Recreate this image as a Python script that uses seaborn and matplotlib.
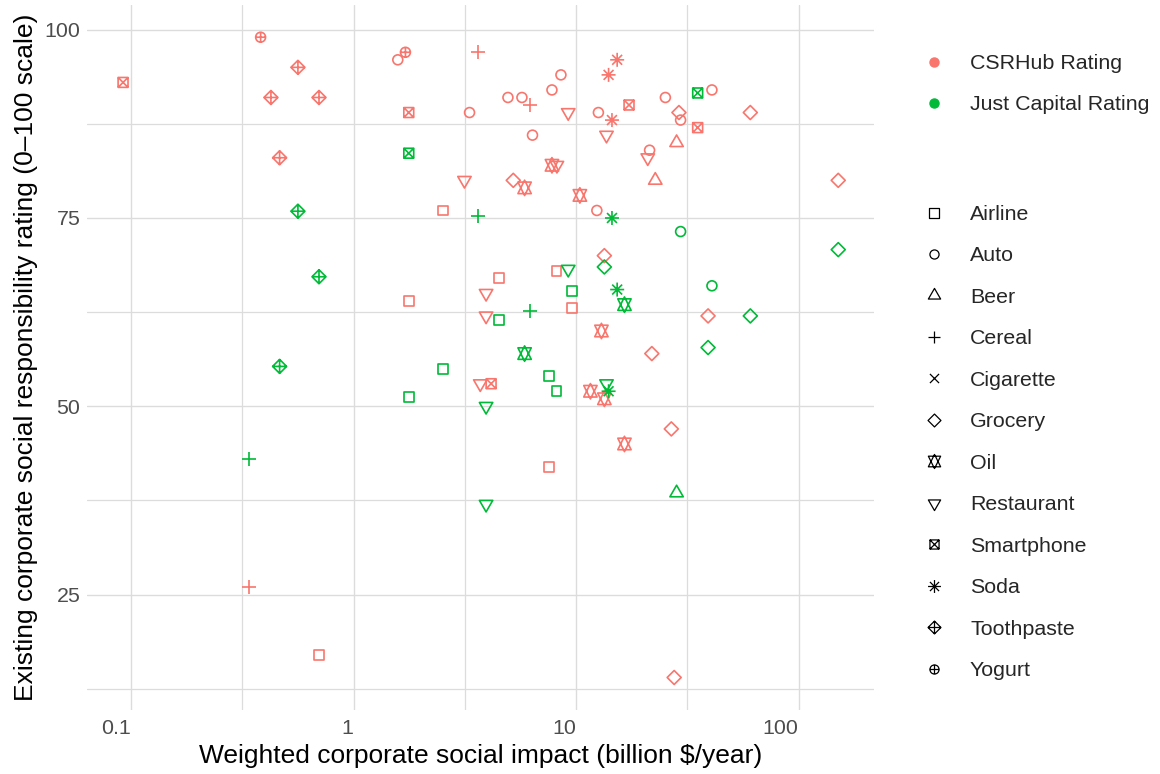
import numpy as np
import pandas as pd
import matplotlib
matplotlib.use("Agg")
import matplotlib.pyplot as plt
from matplotlib.path import Path
from matplotlib.markers import MarkerStyle
from matplotlib.lines import Line2D
import seaborn as sns

# ---------------------------------------------------------------- data
industries = ["Airline", "Auto", "Beer", "Cereal", "Cigarette", "Grocery", "Oil",
              "Restaurant", "Smartphone", "Soda", "Toothpaste", "Yogurt"]
sources = ["CSRHub Rating", "Just Capital Rating"]
source_colors = ["#F8766D", "#00BA38"]

# one entry per company: industry, weighted impact (billion $/year),
# CSRHub rating and Just Capital rating (nan = not rated)
company_industry = (
    ["Airline"] * 7 + ["Auto"] * 13 + ["Beer"] * 2 + ["Cereal"] * 3
    + ["Grocery"] * 9 + ["Oil"] * 7 + ["Restaurant"] * 8
    + ["Smartphone"] * 5 + ["Soda"] * 3 + ["Toothpaste"] * 4 + ["Yogurt"] * 2
)
impact = [
    0.70, 1.78, 2.53, 4.50, 7.56, 8.17, 9.58,
    1.58, 3.32, 4.94, 5.71, 6.37, 7.79, 8.55, 12.4, 12.6, 21.4, 25.2, 29.5, 40.8,
    22.7, 28.3,
    0.337, 3.61, 6.18,
    5.22, 13.4, 21.9, 26.8, 27.6, 29.0, 39.2, 60.7, 150.8,
    5.87, 7.79, 10.4, 11.6, 13.0, 13.4, 16.5,
    3.15, 3.71, 3.94, 3.94, 8.20, 9.22, 13.7, 21.0,
    0.092, 1.77, 4.15, 17.3, 35.2,
    14.0, 14.5, 15.3,
    0.425, 0.465, 0.562, 0.699,
    0.382, 1.71,
]
csrhub = [
    17, 64, 76, 67, 42, 68, 63,
    96, 89, 91, 91, 86, 92, 94, 76, 89, 84, 91, 88, 92,
    80, 85,
    26, 97, 90,
    80, 70, 57, 47, 14, 89, 62, 89, 80,
    79, 82, 78, 52, 60, 51, 45,
    80, 53, 65, 62, 82, 89, 86, 83,
    93, 89, 53, 90, 87,
    94, 88, 96,
    91, 83, 95, 91,
    99, 97,
]
nan = np.nan
justcap = [
    nan, 51.2, 55, 61.5, 54, 52, 65.3,
    nan, nan, nan, nan, nan, nan, nan, nan, nan, nan, nan, 73.2, 66,
    nan, 38.5,
    43, 75.3, 62.7,
    nan, 68.5, nan, nan, nan, nan, 57.8, 62, 70.8,
    57, nan, nan, nan, nan, nan, 63.5,
    nan, nan, 50, 37, nan, 68.2, 53, nan,
    nan, 83.6, nan, nan, 91.6,
    52, 75, 65.5,
    nan, 55.3, 75.9, 67.2,
    nan, nan,
]

wide = pd.DataFrame({"industry": company_industry, "impact": impact,
                     sources[0]: csrhub, sources[1]: justcap})
df = wide.melt(id_vars=["industry", "impact"], value_vars=sources,
               var_name="source", value_name="rating").dropna()

# ------------------------------------------------------- point symbols
K = 1.6            # common frame so every symbol keeps its relative size
SQ = 1.0           # square half side
TR, TX, TY = 1.5551, 1.3468, 0.7776
D = np.sqrt(2)


def poly(pts):
    return Path(list(pts) + [pts[0]],
                [Path.MOVETO] + [Path.LINETO] * (len(pts) - 1) + [Path.CLOSEPOLY])


def seg(p, q):
    return Path([p, q], [Path.MOVETO, Path.LINETO])


def symbol(*parts):
    anchor = Path([(K, 0.0)], [Path.MOVETO])
    return MarkerStyle(Path.make_compound_path(anchor, *parts))


circle = Path.circle((0, 0), 1.0)
plus_l = [seg((-D, 0), (D, 0)), seg((0, -D), (0, D))]
plus_s = [seg((-1, 0), (1, 0)), seg((0, -1), (0, 1))]
cross = [seg((-1, -1), (1, 1)), seg((-1, 1), (1, -1))]
diamond = poly([(-D, 0), (0, D), (D, 0), (0, -D)])
square = poly([(-SQ, -SQ), (SQ, -SQ), (SQ, SQ), (-SQ, SQ)])
yc11 = 0.5 * (TY + TR)

markers = {
    "Airline": symbol(square),
    "Auto": symbol(circle),
    "Beer": symbol(poly([(0, TR), (TX, -TY), (-TX, -TY)])),
    "Cereal": symbol(*plus_l),
    "Cigarette": symbol(*cross),
    "Grocery": symbol(diamond),
    "Oil": symbol(poly([(0, -TR), (TX, yc11), (-TX, yc11)]),
                  poly([(0, TR), (TX, -yc11), (-TX, -yc11)])),
    "Restaurant": symbol(poly([(0, -TR), (TX, TY), (-TX, TY)])),
    "Smartphone": symbol(square, *cross),
    "Soda": symbol(*cross, *plus_l),
    "Toothpaste": symbol(diamond, *plus_l),
    "Yogurt": symbol(circle, *plus_s),
}

# ---------------------------------------------------------------- plot
sns.set_theme(style="white")
plt.rcParams["font.family"] = ["Liberation Sans", "DejaVu Sans"]

W, H = 1160, 774
fig = plt.figure(figsize=(W / 100, H / 100), dpi=100)
left, right, top, bottom = 87.3, 874.0, 5.2, 709.5
ax = fig.add_axes([left / W, 1 - bottom / H, (right - left) / W, (bottom - top) / H])

present = [i for i in industries if i in set(df["industry"])]
sns.scatterplot(data=df, x="impact", y="rating", hue="source", hue_order=sources,
                palette=source_colors, style="industry", style_order=present,
                markers={k: markers[k] for k in present}, s=130, legend=False, ax=ax)

# hollow symbols stroked in the series colour
for coll in ax.collections:
    fc = coll.get_facecolors()
    coll.set_edgecolors(fc)
    coll.set_facecolors("none")
    coll.set_linewidths(1.2)

ax.set_xscale("log")
lx = np.log10(df["impact"])
pad = 0.05 * (lx.max() - lx.min())
ax.set_xlim(10 ** (lx.min() - pad), 10 ** (lx.max() + pad))
ry = df["rating"]
pad = 0.05 * (ry.max() - ry.min())
ax.set_ylim(ry.min() - pad, ry.max() + pad)

xt = [0.1, 1, 10, 100]
ax.set_xticks(xt)
ax.set_xticklabels(["0.1", "1", "10", "100"], ha="right")
ax.set_xticks([10 ** -0.5, 10 ** 0.5, 10 ** 1.5], minor=True)
ax.set_xticklabels([], minor=True)
ax.set_yticks([25, 50, 75, 100])
ax.set_yticklabels(["25", "50", "75", "100"])
ax.set_yticks([12.5, 37.5, 62.5, 87.5], minor=True)

ax.grid(True, which="major", color="#DCDCDC", linewidth=1.0)
ax.grid(True, which="minor", color="#DCDCDC", linewidth=0.9)
ax.set_axisbelow(True)
for sp in ax.spines.values():
    sp.set_visible(False)
fs = 15.4
ax.tick_params(which="both", length=0, labelsize=fs, labelcolor="#4D4D4D")
ax.tick_params(axis="x", pad=6.5)
ax.tick_params(axis="y", pad=5.0)

ax.set_xlabel("Weighted corporate social impact (billion $/year)", fontsize=19,
              color="black", labelpad=4.5)
ax.set_ylabel("Existing corporate social responsibility rating (0\u2013100 scale)",
              fontsize=19, color="black", labelpad=4.5)

# ------------------------------------------------------------- legends
legend_kw = dict(loc="upper left", frameon=False, fontsize=fs, borderpad=0,
                 borderaxespad=0, handlelength=2.4, handletextpad=0.5,
                 labelspacing=1.05)
hue_handles = [Line2D([], [], ls="", marker="o", markersize=6.5,
                      markerfacecolor=c, markeredgecolor=c) for c in source_colors]
fig.legend(hue_handles, sources, bbox_to_anchor=(908 / W, 1 - 54 / H), **legend_kw)

shape_handles = [Line2D([], [], ls="", marker=markers[k], markersize=10.5,
                        markerfacecolor="none", markeredgecolor="black",
                        markeredgewidth=0.9) for k in industries]
fig.legend(shape_handles, industries, bbox_to_anchor=(908 / W, 1 - 205 / H), **legend_kw)

fig.savefig("out.png", dpi=100)
